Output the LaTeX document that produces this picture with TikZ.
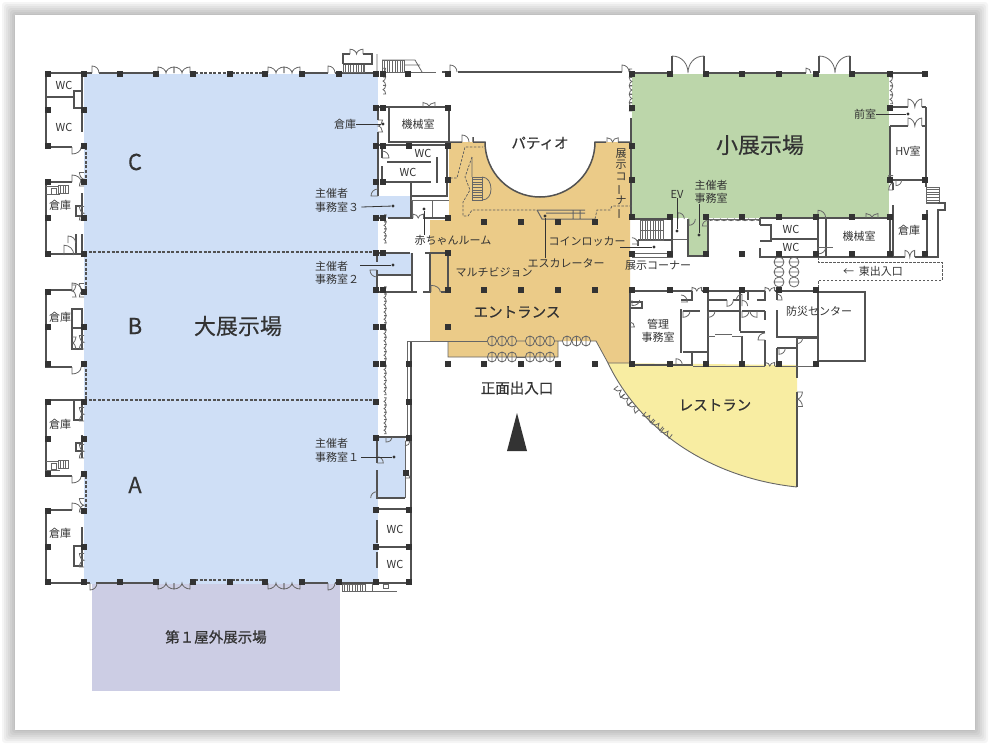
\documentclass[tikz,border=0pt]{standalone}
\usepackage{graphicx}
\usepackage{fontspec}
\setmainfont{Noto Sans CJK JP}
\newfontfamily\semibold[FakeBold=.6]{Noto Sans CJK JP}
\newfontfamily\lightbold[FakeBold=.25]{Noto Sans CJK JP}
\usetikzlibrary{positioning}

\definecolor{hallblue}{HTML}{CFDFF6}
\definecolor{hallgreen}{HTML}{BCD6AA}
\definecolor{entrance}{HTML}{EBCB88}
\definecolor{cafe}{HTML}{F8EDA2}
\definecolor{yard}{HTML}{CCCDE4}
\definecolor{ink}{HTML}{333333}

% stairs: x y width height
\newcommand{\stairh}[4]{\draw[thinwall] (#1,#2) rectangle ++(#3,#4);
  \foreach \t in {2.6,5.2,...,#3} \draw[thinwall] (#1+\t,#2) -- ++(0,#4);}
\newcommand{\stairv}[4]{\draw[thinwall] (#1,#2) rectangle ++(#3,#4);
  \foreach \t in {2.6,5.2,...,#4} \draw[thinwall] (#1,#2+\t) -- ++(#3,0);}

\begin{document}
\begin{tikzpicture}[x=1pt,y=-1pt,
	wall/.style={line width=1.4pt, draw=ink!85},
	thinwall/.style={line width=.8pt, draw=ink!75},
	dashwall/.style={line width=1.2pt, draw=ink!85, dash pattern=on 3pt off 1.6pt},
	thindash/.style={line width=.7pt, draw=ink!80, dash pattern=on 2.5pt off 1.5pt},
	post/.style={rectangle, fill=ink, minimum size=6pt, inner sep=0pt},
	pinpoint/.style={circle, fill=ink, minimum size=3.4pt, inner sep=0pt},
	leader/.style={line width=.8pt, draw=ink},
	small/.style={font=\fontsize{11}{13.5}\selectfont, text=ink, inner sep=0pt, align=center},
	medium/.style={font=\fontsize{14.5}{16}\semibold, text=ink, inner sep=0pt},
	large/.style={font=\fontsize{22}{24}\lightbold, text=ink, inner sep=0pt},
	door/.pic={\draw[thinwall] (0,0) -- (0,-7) .. controls (4,-7) and (7,-4) .. (7,0);},
	twindoor/.pic={\draw[thinwall] (0,0) -- (0,-6) .. controls (4,-6) and (8,-3) .. (8,0) .. controls (8,-3) and (12,-6) .. (16,-6) -- (16,0);},
	swing/.pic={\draw[thinwall] (0,0) ellipse (4.6 and 5) (0,-5) -- (0,5);},
	swingv/.pic={\draw[thinwall] (0,0) ellipse (5 and 5) (-5,0) -- (5,0);}]
	\useasboundingbox (0,0) rectangle (990,745);

	% card
	\foreach \s in {13,11,...,1}
		\fill[black, opacity=.04, rounded corners=3pt] (15-\s,15-\s) rectangle (975+\s,730+\s);
	\fill[white] (15,15) rectangle (975,730);

	% areas
	\fill[yard] (92,584) rectangle (340,691);
	\fill[hallblue] (84,74) rectangle (378,584);
	\fill[hallblue] (378,196) rectangle (411,218);
	\fill[hallblue] (378,253) rectangle (411,275);
	\fill[hallblue] (378,437) -- (405,437) -- (405,498) -- (378,498) -- cycle;
	\fill[hallgreen] (632,74) rectangle (889,218);
	\fill[hallgreen] (688,218) rectangle (708,256);
	\fill[cafe] (608,363) .. controls (640,430) and (710,478) .. (797,487) -- (797,365) -- cycle;
	\fill[entrance] (449,142) -- (485,142) .. controls (485,172.4) and (509.6,197) .. (540,197)
		.. controls (570.4,197) and (595,172.4) .. (595,142) -- (630,142) -- (630,363) -- (608,363)
		-- (596,341) -- (558,341) -- (558,357) -- (448,357) -- (448,341) -- (430,341) -- (430,220) -- (449,220) -- cycle;

	% west wing
	\draw[wall] (82,73) -- (46,73) -- (46,147) -- (72,147) (46,97) -- (74,97) (74,91) rectangle (82,108)
		(82,73) -- (82,91) (82,112) -- (82,132);
	\draw[wall] (72,182) -- (46,182) -- (46,254) -- (84,254) (76,206) rectangle (82,216) (82,193) -- (82,206)
		(76,234) -- (76,254) (82,234) -- (82,254);
	\draw[wall] (72,290) -- (46,290) -- (46,367) -- (72,367) (72,309) rectangle (82,349) (72,328) -- (82,328);
	\draw[wall] (84,400) -- (46,400) -- (46,476) -- (72,476) (74,400) rectangle (82,420) (76,443) rectangle (82,451)
		(82,435) -- (82,458);
	\draw[wall] (72,510) -- (46,510) -- (46,583) (74,546) rectangle (82,566) (82,527) -- (82,546);
	\stairh{58}{185}{10}{8}
	\stairh{58}{460}{10}{8}
	\draw[thinwall] (46,186) -- (58,186) (46,194) -- (60,194) (51,188) rectangle (56,194)
		(46,461) -- (58,461) (46,470) -- (60,470) (51,463) rectangle (56,469);
	\pic at (72,147) [yscale=-1,xscale=1.3] {door};
	\pic at (72,182) [xscale=1.3] {door};
	\pic at (72,290) [xscale=1.3] {door};
	\pic at (72,367) [yscale=-1,xscale=1.3] {door};
	\pic at (72,476) [yscale=-1,xscale=1.3] {door};
	\pic at (72,510) [xscale=1.3] {door};
	\pic at (68,243) [xscale=1.1] {door};
	\pic at (64,255) [scale=1.4] {door};
	\foreach \y in {186,220,297,349,421,458,512,567}
		\pic at (84,\y) [rotate=90,yscale=.9,scale=.85] {twindoor};
	\foreach \y in {297,349}
		\pic at (72,\y) [rotate=90,yscale=-.9,scale=.75] {twindoor};
	\draw[dashwall] (86,147) -- (86,182) (86,254) -- (86,292) (86,364) -- (86,402) (86,476) -- (86,510);
	\draw[dashwall] (84,252) -- (378,252) (84,400) -- (378,400);

	% north and south walls of the large hall
	\draw[wall] (84,73) -- (92,73) (99,73) -- (156,73) (302,73) -- (328,73) (335,73) -- (376,73);
	\draw[wall] (46,583) -- (90,583) (96,583) -- (156,583) (302,583) -- (328,583) (335,583) -- (409,583);
	\draw[dashwall] (195,73) -- (265,73) (195,580) -- (265,580);
	\pic at (92,73) {door};
	\pic at (328,73) {door};
	\pic at (90,583) [yscale=-1] {door};
	\pic at (328,583) [yscale=-1] {door};
	\foreach \x in {158,174,268,284} {
		\pic at (\x,73) {twindoor};
		\pic at (\x,583) [yscale=-1] {twindoor};
	}
	\stairh{342}{584}{23}{7}
	\draw[thinwall] (365,591) -- (397,591) (372,584) -- (372,591) (383,584) rectangle (388,588);

	% north annex
	\stairh{343}{64}{21}{8}
	\draw[wall] (343,64) -- (343,54) -- (350,54) (363,54) -- (372,54) -- (372,64) -- (343,64);
	\pic at (350,54) [scale=.8,xscale=1.02] {twindoor};
	\stairh{382}{60}{22}{12}
	\draw[thinwall] (377,54) -- (377,72) (382,60) -- (415,60) -- (422,72) (404,65) -- (420,65);
	\draw[thinwall] (383,72) -- (436,72);
	\draw[wall] (458,72) -- (622,72) (442,72) -- (450,72);
	\pic at (450,72) {door};
	\pic at (622,72) {door};

	% service rooms by the patio
	\draw[wall] (389,107) rectangle (449,142) (378,107) -- (389,107) (378,107) -- (378,120) (378,132) -- (378,196);
	\draw[wall] (378,145) -- (449,145) (382,146) -- (382,158) (382,166) -- (382,182) -- (431,182) (387,162) -- (431,162);
	\draw[wall] (437,157) -- (437,183) (447,146) -- (447,197) (411,183) -- (411,218) (411,196) -- (447,196);
	\draw[thinwall] (411,200) -- (449,200) (432,200) -- (432,218) (412,200) -- (412,218);
	\draw[wall] (388,218) -- (413,218) (423,218) -- (449,218);
	\pic at (423,107) [scale=.75] {twindoor};
	\pic at (378,120) [rotate=-90,scale=.75] {twindoor};
	\pic at (382,158) [rotate=90,yscale=-1] {door};
	\pic at (378,196) [rotate=90,yscale=1] {door};
	\pic at (413,218) [scale=.65] {twindoor};
	\foreach \y in {77,85.5,94}
		\pic at (383,\y) [rotate=90,yscale=-.8,scale=.55] {twindoor};

	% offices and corridor east of the large hall
	\draw[wall] (378,218) -- (386,218) (377,253) -- (410,253) (412,253) -- (412,292) (377,253) -- (377,262) (377,270) -- (377,292) (377,275) -- (412,275) (377,292) -- (417,292);
	\draw[wall] (430,253) -- (430,292) (448,253) -- (448,292) (425,253) -- (448,253) (423,292) -- (431,292) (441,292) -- (448,292);
	\pic at (431,292) [scale=.95,xscale=1.4] {door};
	\pic at (377,270) [rotate=-90,yscale=-1] {door};
	\foreach \y in {222,229,236,243}
		\pic at (384,\y) [rotate=90,yscale=-.8,scale=.45] {twindoor};
	\foreach \y in {294,301.2,...,398}
		\pic at (384,\y) [rotate=90,yscale=-.8,scale=.45] {twindoor};
	\foreach \y in {405,412.2,...,436}
		\pic at (384,\y) [rotate=90,yscale=-.8,scale=.45] {twindoor};
	\draw[wall] (411,341) -- (411,583) (376,437) -- (411,437) (377,437) -- (377,463) (377,470) -- (377,498) -- (405,498);
	\draw[thinwall] (407,341) -- (407,437) (407,341) -- (487,341) (405,441) -- (405,498);
	\draw[wall] (376,509) -- (411,509) (376,547) -- (411,547) (377,520) -- (377,543) (377,552) -- (377,568);
	\pic at (377,463) [rotate=90,scale=.9,yscale=-1] {door};
	\pic at (377,498) [rotate=0,xscale=-1,scale=.9] {door};
	\pic at (386,437) [yscale=-.8,scale=.9] {door};
	\pic at (405,441) [rotate=-90,yscale=1,scale=.7] {door};
	\pic at (405,478) [rotate=90,yscale=-1,scale=.7] {door};
	\node[post] (pr1) at (406,473) {};

	% patio, stairs and escalator
	\draw[wall, line width=1.5pt] (473,142) -- (485,142) .. controls (485,172.4) and (509.6,197) .. (540,197)
		.. controls (570.4,197) and (595,172.4) .. (595,142) -- (606,142) (618,142) -- (630,142) (450,142) -- (462,142) (473,137) -- (473,142);
	\pic at (462,142) {door};
	\pic at (607,142) [scale=.7] {twindoor};
	\draw[wall] (631,118) -- (631,217);
	\foreach \y in {77,85.5,94,102.5,111}
		\pic at (632,\y) [rotate=90,yscale=.9,scale=.5] {twindoor};
	\draw[thindash] (450,178) -- (457,178) -- (465,147) -- (483,147);
	\draw[thindash] (472,157) -- (465,177) -- (470,190) -- (463,202) -- (463,216) -- (468,216) -- (472,210) -- (537,210);
	\draw[thindash] (595,219) -- (597,210) -- (610,210) -- (612,206) -- (632,206);
	\stairv{472}{177}{10}{23}
	\draw[thinwall] (472,157) -- (472,177) (482,177) .. controls (488,177) and (491,183) .. (491,189) .. controls (491,195) and (488,200) .. (482,200);
	\draw[thinwall, line width=1pt] (537,210) -- (542,219) -- (595,219) (537,210) -- (585,210) (546,213) -- (585,213) (573,210) -- (573,219) (580,210) -- (580,219);

	% entrance doors
	\draw[thinwall] (448,341) -- (448,357) -- (558,357) -- (558,341) (517,341) -- (525,341) (555,341) -- (562,341) (591,341) -- (596,341) -- (608,363) -- (632,363);
	\draw[thinwall] (517,357) -- (525,357);
	\foreach \x in {492,502,512,530,540,550} {
		\pic at (\x,341) {swing};
		\pic at (\x,357) {swing};
	}
	\foreach \x in {567,576.5,586}
		\pic at (\x,341) {swing};

	% restaurant
	\draw[thinwall, line width=.9pt] (608,363) .. controls (640,430) and (710,478) .. (797,487);
	\draw[wall] (797,348) -- (797,378) (797,392) -- (797,487);
	\pic at (797,392) [rotate=-90,scale=.9] {twindoor};
	\foreach \p/\q/\a in {618/386/-52,625/394/-50,632/402/-48,646/412/-42,655/420/-40,664/428/-38}
		\pic at (\p,\q) [rotate=\a,yscale=-1.3,scale=.65] {twindoor};

	% small hall
	\draw[wall] (632,73) -- (672,73) (704,73) -- (806,73) (813,73) -- (819,73) (850,73) -- (925,73);
	\draw[wall] (672,56) -- (672,73) (704,56) -- (704,73) (819,56) -- (819,73) (850,56) -- (850,73);
	\draw[thinwall] (672,56) .. controls (682,56) and (688,64) .. (688,73) .. controls (688,64) and (694,56) .. (704,56);
	\draw[thinwall] (819,56) .. controls (829,56) and (835,64) .. (835,73) .. controls (835,64) and (841,56) .. (850,56);
	\pic at (806,73) [scale=.7] {door};
	\draw[wall] (890,126) -- (890,180) (890,180) -- (926,180) (926,107) -- (926,180) (890,107) -- (908,107) (922,107) -- (926,107)
		(890,126) -- (908,126) (922,126) -- (926,126);
	\pic at (908,107) [xscale=.45,yscale=.7,scale=1.9] {twindoor};
	\pic at (908,126) [xscale=.45,yscale=.7,scale=1.9] {twindoor};
	\foreach \y in {77,86,95}
		\pic at (890,\y) [rotate=-90,yscale=.8,scale=.55] {twindoor};
	\draw[wall] (893,183) -- (893,190) (893,205) -- (893,257) (926,181) -- (926,187);
	\pic at (893,190) [rotate=90,yscale=.8,scale=.9] {twindoor};
	\pic at (896,180) [yscale=-1,scale=.8] {door};
	\stairv{926}{187}{13}{16}
	\draw[wall] (938,203) -- (945,203) -- (945,210) -- (938,210) -- (938,257) (927,210) -- (927,257);
	\draw[wall] (772,257) -- (905,257) (915,257) -- (939,257);
	\pic at (905,257) [xscale=.6,yscale=1.1,scale=1] {twindoor};

	% rooms south of the small hall
	\draw[wall] (632,219) -- (672,219) -- (672,256) (638,240) -- (672,240) (638,240) -- (638,246) (688,219) -- (688,256) -- (708,256) -- (708,219);
	\stairh{640}{220}{23}{20}
	\draw[thinwall] (640,230) -- (663,230) (673,239) -- (687,239);
	\draw[thinwall] (632,253) rectangle (672,257);
	\pic at (632,244) [rotate=90,yscale=-.9,scale=.9] {door};
	\pic at (678,219) [scale=.9] {door};
	\pic at (689,219) [yscale=-1,scale=.9] {door};
	\pic at (708,226) [rotate=90,yscale=1,scale=.8] {door};
	\draw[thinwall] (708,219) -- (760,219);
	\foreach \x in {710,717,724,731,738,745,752}
		\pic at (\x,219) [yscale=-.6,scale=.43] {twindoor};
	\draw[wall] (760,218) -- (890,218) -- (890,257) (760,218) -- (760,225) (760,248) -- (760,257) -- (772,257) (760,241) -- (771,241) -- (771,225) -- (760,225) (771,239) -- (818,239);
	\draw[wall] (818,218) -- (818,257) (826,219) -- (826,257);
	\pic at (818,218) [scale=1.1] {door};
	\pic at (866,218) [scale=.75] {twindoor};
	\pic at (818,247) [yscale=-.9,scale=1.1] {door};
	\draw[thinwall] (818,247) -- (833,247);
	\draw[thindash] (818,257) -- (818,262) -- (942,262) -- (942,280) -- (818,280) -- (818,290);
	\foreach \x in {779,794} \foreach \y in {262,272,282}
		\pic at (\x,\y) {swingv};

	% rooms south of the corridor
	\draw[wall] (630,291) -- (692,291) (702,291) -- (765,291) (775,291) -- (818,291) (630,291) -- (630,365) -- (693,365);
	\draw[thinwall] (693,366) -- (765,366) (775,366) -- (818,366);
	\pic at (692,291) [scale=.6] {twindoor};
	\pic at (765,291) [scale=.6] {twindoor};
	\pic at (765,366) [scale=.6] {twindoor};
	\draw[wall] (630,302) rectangle (642,308) (681,309) -- (681,353) (683,352) -- (707,352) (692,352) -- (692,366);
	\draw[wall] (692,291) -- (692,300) -- (681,300) (708,291) -- (708,366);
	\draw[wall] (708,300) -- (727,300) (733,300) -- (740,300) (740,291) -- (740,331) (748,291) -- (748,300) (765,291) -- (765,300) -- (757,300);
	\draw[wall] (683,311) -- (700,311) (708,311) -- (740,311) (742,311) -- (765,311) (765,311) -- (765,320) (740,332) -- (765,332) (765,340) -- (765,366) (742,336) -- (742,366);
	\draw[thinwall] (708,336) -- (715,336) (715,334) -- (732,334) (732,336) -- (742,336);
	\pic at (632,300) [rotate=0,xscale=1.1,yscale=-.8] {door};
	\pic at (630,327) [rotate=90,yscale=-.9,scale=.7] {door};
	\pic at (681,302) [rotate=90,yscale=-.9] {door};
	\pic at (676,365) [scale=.9] {door};
	\pic at (683,311) [yscale=-.9] {door};
	\pic at (708,311) [yscale=-.9] {door};
	\pic at (742,311) [yscale=-.9] {door};
	\pic at (757,311) [xscale=-1,yscale=-.9] {door};
	\pic at (727,300) [yscale=-1,scale=.9] {door};
	\pic at (742,300) [xscale=-1,scale=.8] {door};
	\pic at (742,306) [xscale=1,yscale=1,scale=.8] {door};
	\pic at (765,340) [rotate=90,scale=1] {door};
	% fire control centre
	\draw[wall] (777,291) -- (777,300) (777,310) -- (777,337) -- (818,337) (818,291) -- (818,366) (818,292) -- (865,292) -- (865,361) -- (818,361);
	\draw[wall] (777,348) -- (797,348) (777,348) -- (777,366) (797,338) -- (797,366) (797,338) -- (818,338);
	\pic at (777,300) [rotate=90,yscale=-.8,scale=.9] {door};
	\pic at (779,348) [yscale=-1,scale=.9] {door};
	\pic at (797,338) [yscale=-1,scale=.8] {door};

	% columns
	\foreach \x in {48,84,120,156,193,230,265,302,339,376,383,408,448,632,670,706,742,779,816,852,890,925}
		\node[post] (nr\x) at (\x,74) {};
	\foreach \x/\y in {48/110,84/110,376/108,383/108,448/108,632/108,890/108,48/146,84/146,376/146,383/146,409/146,448/146,632/146,
		48/182,84/182,376/182,383/182,448/180,632/180,890/180,925/180,48/218,84/218,376/218,383/218,448/218,632/217,
		670/217,706/217,742/217,779/217,816/217,852/217,890/217,925/217,484/222,521/222,558/222,595/222,
		48/254,84/254,376/253,383/253,448/253,632/254,670/254,706/254,742/254,779/254,816/254,852/254,890/254,925/254,
		48/292,84/292,376/290,383/290,448/290,484/290,521/290,558/290,595/290,632/290,670/290,706/290,742/290,779/290,816/290,
		48/327,84/327,376/327,383/327,448/327,48/364,84/364,376/364,383/364,409/364,448/364,484/364,521/364,558/364,595/364,
		632/364,670/364,706/364,742/364,779/364,816/364,48/402,84/402,376/402,409/402,48/439,84/439,48/474,84/474,376/438,409/438,
		48/511,84/511,48/547,84/547,376/510,409/510,376/547,409/547,
		48/582,84/582,120/582,156/582,193/582,230/582,265/582,302/582,339/582,376/582,409/582}
		\node[post] (p\x-\y) at (\x,\y) {};

	% labels
	\node[small] (wca) at (64,85) {WC};
	\node[small] (wcb) at (64,127) {WC};
	\node[small] (stoa) at (60,205) {倉庫};
	\node[small] (stob) at (60,317) {倉庫};
	\node[small] (stoc) at (60,424) {倉庫};
	\node[small] (stod) at (60,533) {倉庫};
	\node[large] (hallc) at (135,162) {C};
	\node[large] (hallb) at (135,326) {B};
	\node[large] (halla) at (135,485) {A};
	\node[large] (mainhall) at (238,326) {大展示場};
	\node[large] (subhall) at (760,145) {小展示場};
	\node[medium] (yardlbl) at (216,637) {第１屋外展示場};
	\node[medium] (patio) at (540,143) {パティオ};
	\node[medium] (hallway) at (517,312) {エントランス};
	\node[medium] (frontdoor) at (517,388) {正面出入口};
	\node[medium] (restaurant) at (715,405) {レストラン};
	\node[small] (machinea) at (418,124) {機械室};
	\node[small] (wcc) at (423,153) {WC};
	\node[small] (wcd) at (408,172) {WC};
	\node[small] (multi) at (494,272) {マルチビジョン};
	\node[small, anchor=west] (ofc3a) at (315,193) {主催者};
	\node[small, anchor=west] (ofc3b) at (315,207) {事務室３};
	\node[small, anchor=west] (ofc2a) at (315,266) {主催者};
	\node[small, anchor=west] (ofc2b) at (315,279) {事務室２};
	\node[small, anchor=west] (ofc1a) at (315,443) {主催者};
	\node[small, anchor=west] (ofc1b) at (315,457) {事務室１};
	\node[small] (wce) at (395,529) {WC};
	\node[small] (wcf) at (395,564) {WC};
	\node[small] (store) at (345,124) {倉庫};
	\node[small] (baby) at (453,240) {赤ちゃんルーム};
	\node[small] (escal) at (566,263) {エスカレーター};
	\node[small] (locker) at (587,242) {コインロッカー};
	\node[small, font=\fontsize{11}{11.5}\selectfont] (cornera) at (621,184) {展\\示\\コ\\\rotatebox[origin=c]{90}{ー}\\ナ\\\rotatebox[origin=c]{90}{ー}};
	\node[small] (cornerb) at (658,266) {展示コーナー};
	\node[small] (evlbl) at (677,194) {EV};
	\node[small] (ofc) at (711,192) {主催者\\事務室};
	\node[small] (mach) at (859,236) {機械室};
	\node[small] (wcg) at (791,229) {WC};
	\node[small] (wch) at (791,247) {WC};
	\node[small] (front) at (865,114) {前室};
	\node[small] (hvroom) at (908,151) {HV室};
	\node[small] (stoe) at (909,230) {倉庫};
	\node[small] (eastdoor) at (873,271) {←\ \ 東出入口};
	\node[small] (office) at (658,331) {管理\\事務室};
	\node[small] (bosai) at (819,311) {防災センター};

	% leaders
	\node[pinpoint] (d1) at (383,124) {};
	\node[pinpoint] (d2) at (393,206) {};
	\node[pinpoint] (d3) at (393,265) {};
	\node[pinpoint] (d4) at (394,457) {};
	\node[pinpoint] (d5) at (424,209) {};
	\node[pinpoint] (d6) at (545,216) {};
	\node[pinpoint] (d7) at (654,247) {};
	\node[pinpoint] (d8) at (677,231) {};
	\node[pinpoint] (d9) at (699,235) {};
	\node[pinpoint] (d10) at (908,114) {};
	\coordinate (lk) at (620,247);
	\coordinate (ofc2end) at (360,265);
	\draw[leader] (store.east) -- (d1);
	\draw[leader] (ofc3b.east) ++(2,0) -- (d2);
	\draw[leader] (ofc2end) -- (d3);
	\draw[leader] (ofc1b.east) ++(2,0) -- (d4);
	\draw[leader] (baby.north -| d5) -- (d5);
	\draw[leader] (escal.north -| d6) -- (d6);
	\draw[leader] (lk) -- (d7);
	\draw[leader] (evlbl.south) -- (d8);
	\draw[leader] (ofc.south -| d9) -- (d9);
	\draw[leader] (front.east) -- (d10);

	% entrance marker
	\fill[ink] (517,413) -- (527,451) -- (507,451) -- cycle;
\end{tikzpicture}
\end{document}
